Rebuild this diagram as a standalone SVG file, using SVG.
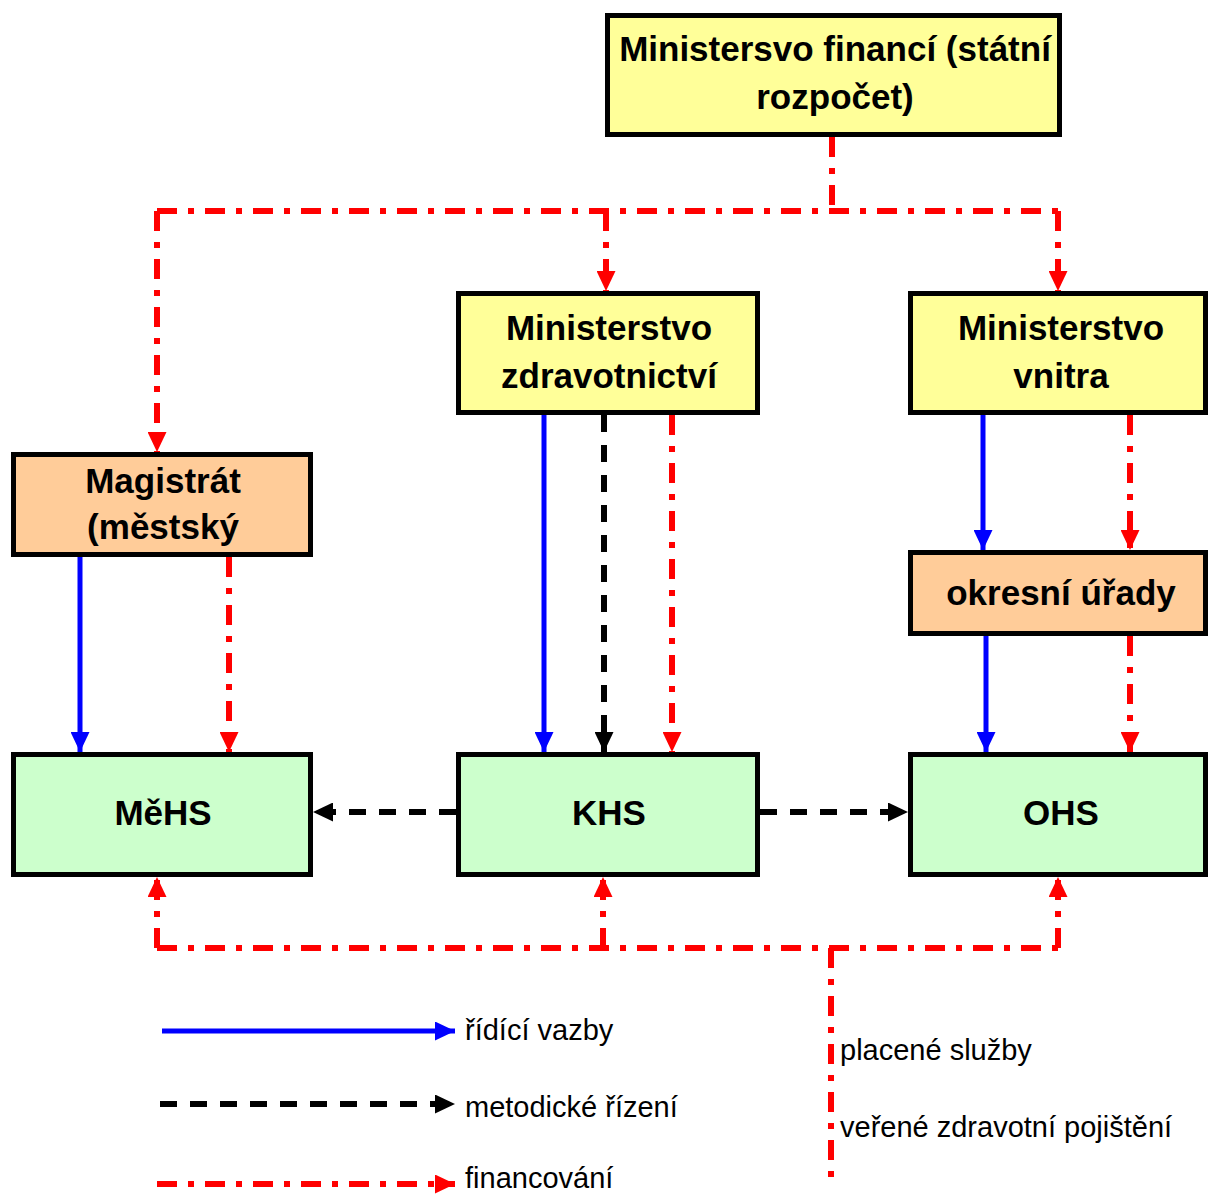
<svg xmlns="http://www.w3.org/2000/svg" width="1209" height="1196" viewBox="0 0 1209 1196">
<style>
.box{stroke:#000;stroke-width:5}
.y{fill:#FFFF99}.o{fill:#FFCC99}.g{fill:#CCFFCC}
.t{font-family:"Liberation Sans",Arial,sans-serif;font-weight:bold;font-size:35px;text-anchor:middle;fill:#000}
.l{font-family:"Liberation Sans",Arial,sans-serif;font-size:29px;fill:#000}
.blue{stroke:#0000FF;stroke-width:5;fill:none}
.blk{stroke:#000;stroke-width:6;fill:none;stroke-dasharray:17 13}
.red{stroke:#FF0000;stroke-width:6;fill:none;stroke-dasharray:20 11 6 11}
</style>
<defs>
<marker id="ab" markerUnits="userSpaceOnUse" markerWidth="20" markerHeight="19" refX="20" refY="9.5" orient="auto"><path d="M0,0 L20,9.5 L0,19 z" fill="#0000FF"/></marker>
<marker id="ak" markerUnits="userSpaceOnUse" markerWidth="20" markerHeight="19" refX="20" refY="9.5" orient="auto"><path d="M0,0 L20,9.5 L0,19 z" fill="#000"/></marker>
<marker id="ar" markerUnits="userSpaceOnUse" markerWidth="20" markerHeight="19" refX="20" refY="9.5" orient="auto"><path d="M0,0 L20,9.5 L0,19 z" fill="#FF0000"/></marker>
</defs>
<g id="connectors">
<path class="red" d="M832,137 V211"/>
<path class="red" d="M157,211 H1058"/>
<path class="red" d="M157,211 V452" marker-end="url(#ar)"/>
<path class="red" d="M606,211 V291" marker-end="url(#ar)"/>
<path class="red" d="M1058,211 V291" marker-end="url(#ar)"/>
<path class="blue" d="M80,557 V752" marker-end="url(#ab)"/>
<path class="red" d="M229,557 V752" marker-end="url(#ar)"/>
<path class="blue" d="M544,415 V752" marker-end="url(#ab)"/>
<path class="blk" d="M604,415 V752" marker-end="url(#ak)"/>
<path class="red" d="M672,415 V752" marker-end="url(#ar)"/>
<path class="blue" d="M983,415 V550" marker-end="url(#ab)"/>
<path class="red" d="M1130,415 V550" marker-end="url(#ar)"/>
<path class="blue" d="M986,636 V752" marker-end="url(#ab)"/>
<path class="red" d="M1130,636 V752" marker-end="url(#ar)"/>
<path class="blk" d="M456,812 H313" marker-end="url(#ak)"/>
<path class="blk" d="M760,812 H908" marker-end="url(#ak)"/>
<path class="red" d="M157,948 H1058"/>
<path class="red" d="M157,948 V877" marker-end="url(#ar)"/>
<path class="red" d="M603,948 V877" marker-end="url(#ar)"/>
<path class="red" d="M1058,948 V877" marker-end="url(#ar)"/>
<path class="red" d="M831,948 V1180"/>
</g>
<g id="mf"><rect class="box y" x="607.5" y="15.5" width="452" height="119"/>
<text class="t" x="835" y="61">Ministersvo financí (státní</text><text class="t" x="835" y="109">rozpočet)</text></g>
<g id="mz"><rect class="box y" x="458.5" y="293.5" width="299" height="119"/>
<text class="t" x="609" y="340">Ministerstvo</text><text class="t" x="609" y="388">zdravotnictví</text></g>
<g id="mv"><rect class="box y" x="910.5" y="293.5" width="295" height="119"/>
<text class="t" x="1061" y="340">Ministerstvo</text><text class="t" x="1061" y="388">vnitra</text></g>
<g id="mag"><rect class="box o" x="13.5" y="454.5" width="297" height="100"/>
<text class="t" x="163" y="493">Magistrát</text><text class="t" x="163" y="539">(městský</text></g>
<g id="okr"><rect class="box o" x="910.5" y="552.5" width="295" height="81"/>
<text class="t" x="1061" y="605">okresní úřady</text></g>
<g id="mehs"><rect class="box g" x="13.5" y="754.5" width="297" height="120"/>
<text class="t" x="163" y="825">MěHS</text></g>
<g id="khs"><rect class="box g" x="458.5" y="754.5" width="299" height="120"/>
<text class="t" x="609" y="825">KHS</text></g>
<g id="ohs"><rect class="box g" x="910.5" y="754.5" width="295" height="120"/>
<text class="t" x="1061" y="825">OHS</text></g>
<g id="legend">
<path class="blue" d="M162,1031 H455" marker-end="url(#ab)"/>
<path class="blk" d="M160,1104 H455" marker-end="url(#ak)"/>
<path class="red" d="M157,1184 H455" marker-end="url(#ar)"/>
<text class="l" x="465" y="1040">řídící vazby</text>
<text class="l" x="465" y="1117">metodické řízení</text>
<text class="l" x="465" y="1188">financování</text>
<text class="l" x="840" y="1060">placené služby</text>
<text class="l" x="840" y="1137">veřené zdravotní pojištění</text>
</g>
</svg>
